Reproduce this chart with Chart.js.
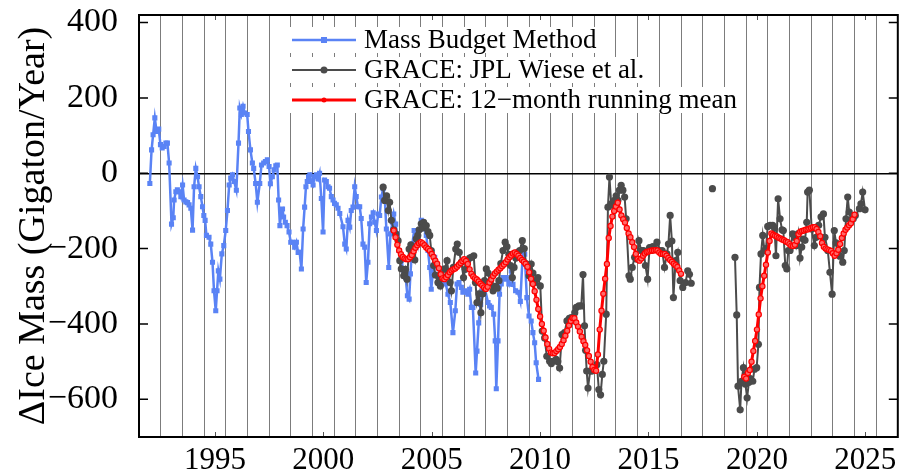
<!DOCTYPE html>
<html>
<head>
<meta charset="utf-8">
<script src="https://cdn.jsdelivr.net/npm/chart.js@4.4.1/dist/chart.umd.min.js"></script>
<style>
  html, body { margin: 0; padding: 0; background: #fff; }
  #wrap { width: 903px; height: 475px; }
</style>
</head>
<body>
<div id="wrap"><canvas id="iceChart" width="903" height="475"></canvas></div>
<script>
// Mass budget method, Gt/yr
const mbYears = [
  1992.00,1992.08,1992.15,1992.23,1992.31,1992.41,1992.49,1992.57,1992.66,1992.74,1992.81,1992.89,
  1993.00,1993.08,1993.12,1993.20,1993.27,1993.35,1993.43,1993.51,1993.58,1993.66,1993.74,1993.81,1993.89,1993.97,
  1994.04,1994.12,1994.20,1994.27,1994.35,1994.43,1994.49,1994.55,1994.61,1994.73,1994.81,1994.89,1994.96,
  1995.04,1995.10,1995.16,1995.23,1995.32,1995.41,1995.50,1995.58,1995.66,1995.73,1995.81,1995.89,1995.99,
  1996.09,1996.15,1996.22,1996.30,1996.38,1996.49,1996.55,1996.64,1996.73,1996.79,1996.88,1996.96,
  1997.07,1997.15,1997.25,1997.33,1997.42,1997.50,1997.56,1997.65,1997.73,1997.81,1997.88,1997.94,
  1998.00,1998.06,1998.12,1998.17,1998.25,1998.33,1998.42,1998.50,1998.59,1998.68,1998.76,1998.84,1998.91,1998.99,
  1999.07,1999.14,1999.20,1999.26,1999.32,1999.38,1999.45,1999.53,1999.60,1999.68,1999.76,1999.83,1999.91,1999.99,
  2000.06,2000.14,2000.22,2000.29,2000.37,2000.45,2000.52,2000.60,2000.68,2000.76,2000.91,2000.99,
  2001.06,2001.14,2001.22,2001.29,2001.37,2001.45,2001.52,2001.60,2001.68,2001.75,2001.83,2001.91,2001.98,
  2002.06,2002.14,2002.22,2002.30,2002.37,2002.45,2002.53,2002.60,2002.68,2002.76,2002.83,2002.91,
  2003.02,2003.10,2003.19,2003.25,2003.34,2003.40,2003.49,2003.60,2003.71,2003.80,2003.88,2003.96,
  2004.02,2004.11,2004.19,2004.26,2004.37,2004.52,2004.60,2004.68,2004.75,2004.83,2004.91,2004.98,
  2005.06,2005.14,2005.22,2005.37,2005.45,2005.52,2005.65,2005.75,2005.86,2005.98,
  2006.09,2006.17,2006.26,2006.37,2006.44,2006.52,2006.60,2006.67,2006.75,2006.83,2006.90,
  2007.03,2007.09,2007.17,2007.26,2007.33,2007.44,2007.60,2007.67,2007.75,2007.86,2007.93,2007.98,
  2008.06,2008.13,2008.21,2008.29,2008.36,2008.44,2008.56,2008.67,2008.75,2008.87,2008.98,
  2009.09,2009.21,2009.29,2009.39,2009.49,2009.59,2009.67,2009.75,2009.82,2009.93
];
const mbValues = [
  -27,62,102,147,111,117,76,67,71,80,80,27,
  -135,-118,-71,-49,-44,-49,-62,-31,-71,-76,-78,-84,-93,-151,
  -36,13,-9,-36,-62,-89,-112,-125,-165,-170,-188,-236,-312,
  -365,-312,-259,-281,-214,-192,-152,-99,-31,-13,-4,-22,-45,
  80,173,156,178,160,156,111,62,27,13,-27,-77,
  -27,22,27,31,36,18,-28,-9,9,20,22,-71,
  -139,-99,-95,-116,-130,-139,-156,-183,-183,-196,-183,-210,-210,-254,
  -148,-90,-36,-22,-9,-4,-22,-31,-9,-4,-15,0,-67,-156,
  -18,-22,-36,-40,-62,-71,-80,-84,-93,-107,-142,-188,
  -201,-125,-143,-99,-90,-36,-62,-89,-89,-120,-188,-196,-290,
  -236,-134,-116,-105,-130,-152,-108,-112,-63,-41,-59,-148,
  -250,-161,-130,-108,-135,-161,-205,-232,-259,-277,-325,-334,
  -267,-188,-152,-152,-188,-125,-130,-148,-165,-205,-250,-308,
  -259,-223,-240,-254,-277,-290,-294,-321,-343,-423,
  -365,-294,-290,-303,-316,-312,-316,-321,-308,-356,-356,
  -530,-472,-397,-348,-312,-303,-343,-352,-356,-374,-445,-572,
  -445,-321,-294,-277,-281,-277,-294,-259,-295,-312,-316,
  -340,-201,-215,-330,-379,-392,-423,-450,-503,-547
];

// GRACE: JPL Wiese et al. (null = gap in the record)
const graceYears = [
  2002.76,2002.83,2002.92,
  2003.00,2003.06,2003.14,2003.25,2003.34,2003.45,2003.53,2003.60,2003.71,2003.79,2003.86,2003.96,
  2004.04,2004.11,2004.22,2004.29,2004.36,2004.42,2004.52,2004.58,2004.63,2004.75,2004.83,2004.91,2004.98,
  2005.09,2005.17,2005.29,2005.34,2005.40,2005.50,2005.60,2005.71,2005.78,2005.85,2005.91,
  2006.00,2006.11,2006.18,2006.27,2006.37,2006.47,2006.55,2006.65,2006.75,2006.83,2006.94,
  2007.02,2007.09,2007.18,2007.27,2007.36,2007.44,2007.52,2007.60,2007.70,2007.83,2007.93,
  2008.02,2008.10,2008.19,2008.29,2008.39,2008.47,2008.56,2008.64,2008.72,2008.80,2008.88,2008.97,
  2009.06,2009.18,2009.27,2009.35,2009.49,2009.59,2009.67,2009.76,2009.90,
  2010.01,2010.10,2010.21,2010.31,2010.44,2010.52,2010.59,2010.74,2010.82,2010.90,
  2011.01,2011.13,2011.24,2011.35,2011.44,2011.51,2011.60,2011.67,2011.79,2011.90,2011.98,
  2012.05,2012.10,2012.15,2012.21,2012.31,2012.40,2012.51,2012.62,2012.71,2012.79,2012.87,2012.94,
  2013.05,2013.13,2013.20,2013.28,2013.36,2013.43,2013.51,2013.59,2013.66,2013.74,2013.82,2013.90,2013.97,
  2014.10,2014.16,2014.25,2014.36,2014.46,2014.56,2014.66,2014.77,2014.86,2014.96,
  2015.05,2015.12,2015.20,2015.28,2015.39,2015.51,2015.63,2015.74,2015.85,2015.92,
  2016.00,2016.08,2016.15,2016.25,2016.35,2016.46,2016.58,2016.71,2016.81,2016.89,2016.97,
  2017.45, 2017.95, 2018.45,
  2018.99,2019.07,2019.13,2019.23,2019.29,2019.38,2019.47,2019.55,2019.63,2019.70,2019.81,2019.89,2019.99,
  2020.07,2020.12,2020.19,2020.27,2020.35,2020.42,2020.50,2020.61,2020.73,2020.81,2020.88,2020.98,
  2021.07,2021.16,2021.22,2021.31,2021.38,2021.45,2021.53,2021.65,2021.73,2021.81,2021.91,2021.99,
  2022.07,2022.14,2022.22,2022.30,2022.34,2022.42,2022.53,2022.65,2022.73,2022.85,2022.96,
  2023.07,2023.14,2023.27,2023.37,2023.47,2023.57,2023.65,2023.73,2023.83,2023.96,
  2024.03,2024.11,2024.19,2024.26,2024.34,2024.45,2024.54,2024.73,2024.80,2024.88,2024.99
];
const graceValues = [
  -37,-72,-60,
  -99,-77,-125,-150,-161,-179,-232,-254,-272,-255,-281,-201,
  -190,-210,-230,-174,-165,-150,-134,-145,-130,-139,-155,-165,-205,
  -245,-270,-290,-275,-299,-275,-254,-232,-265,-290,-312,
  -250,-201,-188,-210,-236,-277,-255,-235,-225,-223,-219,
  -290,-343,-320,-370,-320,-285,-254,-265,-290,-312,-300,
  -305,-285,-240,-205,-183,-195,-215,-245,-277,-250,-225,-210,
  -205,-179,-200,-240,-272,-241,-265,-290,-277,
  -299,-419,-437,-486,-499,-505,-499,-494,-500,-517,
  -428,-423,-392,-385,-383,-390,-370,-356,-352,-352,-269,
  -405,-470,-525,-570,-525,-525,-516,-508,-574,-588,-534,-499,
  -374,-90,-10,-81,-85,-72,-60,-72,-45,-32,-45,-63,-121,
  -272,-281,-250,-223,-228,-179,-205,-205,-245,-281,
  -197,-205,-195,-201,-183,-205,-205,-250,-214,-188,
  -112,-180,-330,-232,-210,-285,-303,-290,-259,-268,-292,
  null, -41, null,
  -223,-376,-565,-628,-552,-516,-560,-596,-555,-545,-552,-520,-516,
  -454,-303,-214,-165,-205,-200,-141,-138,-138,-145,-219,-68,
  -121,-150,-152,-245,-254,-205,-205,-161,-170,-192,-160,-225,
  -196,-175,-178,-130,-50,-45,-148,-192,-170,-138,-116,
  -108,-170,-205,-263,-321,-152,-185,-214,-220,-236,
  -205,-121,-63,-103,-125,-120,-112,-94,-81,-50,-97
];

// GRACE 12-month running mean, monthly values
const meanStartA = 2003.25;
const meanValuesA = [
  -152,-170,-190,-205,-215,-222,-226,-228,-228,
  -223,-217,-207,-198,-191,-186,-183,-186,-191,-197,-201,-206,
  -214,-222,-232,-240,-252,-268,-279,-281,-276,-270,-263,-258,
  -255,-253,-248,-243,-238,-233,-228,-233,-241,-255,-267,-274,
  -279,-282,-287,-293,-298,-303,-307,-301,-290,-282,-273,-266,
  -261,-256,-252,-247,-242,-236,-229,-223,-218,-213,-210,-214,
  -219,-225,-230,-235,-240,-248,-263,-280,-294,-313,-336,-360,
  -380,-400,-418,-436,-453,-466,-476,-478,-477,-472,-467,-461,
  -453,-443,-431,-418,-404,-392,-384,-385,-396,-407,-420,-434,
  -446,-456,-470,-485,-500,-514,-522,-524,-481,-415,-365,-320,
  -280,-241,-172,-140,-115,-100,-88,-78,-96,-112,-122,-131,
  -145,-160,-170,-183,-196,-214,-228,-232,-226,-219,-213,-209,
  -208,-206,-205,-205,-204,-205,-210,-214,-214,-214,-219,-225,
  -230,-235,-240,-244,-249,-258,-267
];
const meanStartB = 2019.42;
const meanValuesB = [
  -540,-545,-530,-522,-500,-472,-445,
  -415,-375,-332,-300,-272,-243,-210,-180,-160,-163,-166,-168,
  -171,-173,-176,-178,-181,-183,-188,-192,-193,-190,-180,-162,
  -155,-153,-152,-150,-149,-147,-145,-143,-143,-148,-156,-167,
  -185,-195,-200,-202,-204,-206,-212,-219,-212,-203,-188,-172,
  -160,-150,-144,-138,-133,-122,-110
];

const yTicks = [-600, -400, -200, 0, 200, 400];
const labelYears = [1995, 2000, 2005, 2010, 2015, 2020, 2025];

const SERIF = '"Liberation Serif", "Times New Roman", serif';
const BLUE = '#5a83f5';
const GRAY = '#4b4b4b';
const RED = '#ff0000';

if (mbYears.length !== mbValues.length || graceYears.length !== graceValues.length) {
  throw new Error('length mismatch ' + mbYears.length + '/' + mbValues.length + ' ' + graceYears.length + '/' + graceValues.length);
}

function toPoints(xs, ys) {
  return xs.map((x, i) => ({ x: x, y: ys[i] }));
}
function monthly(start, vals) {
  return vals.map((v, i) => ({ x: start + i / 12, y: v }));
}

const meanPoints = monthly(meanStartA, meanValuesA)
  .concat([{ x: 2018, y: null }])
  .concat(monthly(meanStartB, meanValuesB));

// year grid lines sit half way between the labelled years
const gridYears = [];
for (let yr = 1992.5; yr < 2026; yr += 1) gridYears.push(yr);
const xTickValues = gridYears.concat(labelYears).sort((a, b) => a - b);

const legendRows = [
  { text: 'Mass Budget Method', color: BLUE, marker: 'rect', lw: 2.5, r: 3 },
  { text: 'GRACE: JPL Wiese et al.', color: GRAY, marker: 'circle', lw: 2, r: 3.5 },
  { text: 'GRACE: 12\u2212month running mean', color: RED, marker: 'circle', lw: 3, r: 2.5 }
];

const legendPlugin = {
  id: 'insideLegend',
  afterDatasetsDraw(chart) {
    const ctx = chart.ctx;
    ctx.save();
    ctx.font = '27px ' + SERIF;
    ctx.textBaseline = 'middle';
    legendRows.forEach((row, i) => {
      const y = 40 + i * 30;
      const w = ctx.measureText(row.text).width;
      ctx.fillStyle = '#fff';
      ctx.fillRect(284, y - 13, 364 + w + 3 - 284, 26);
      ctx.strokeStyle = row.color;
      ctx.lineWidth = row.lw;
      ctx.beginPath();
      ctx.moveTo(292, y);
      ctx.lineTo(356, y);
      ctx.stroke();
      ctx.fillStyle = row.color;
      if (row.marker === 'rect') {
        ctx.fillRect(324 - row.r, y - row.r, row.r * 2, row.r * 2);
      } else {
        ctx.beginPath();
        ctx.arc(324, y, row.r, 0, Math.PI * 2);
        ctx.fill();
      }
      ctx.fillStyle = '#000';
      ctx.fillText(row.text, 364, y + 1);
    });
    ctx.restore();
  }
};

const framePlugin = {
  id: 'frame',
  afterDraw(chart) {
    const { ctx, chartArea: a, scales } = chart;
    ctx.save();
    ctx.strokeStyle = '#000';
    ctx.lineWidth = 1.5;
    yTicks.forEach(v => {
      const y = scales.y.getPixelForValue(v);
      ctx.beginPath();
      ctx.moveTo(a.left, y); ctx.lineTo(a.left + 9, y);
      ctx.moveTo(a.right, y); ctx.lineTo(a.right - 9, y);
      ctx.stroke();
    });
    ctx.strokeStyle = '#555';
    ctx.lineWidth = 1;
    labelYears.forEach(v => {
      const x = Math.round(scales.x.getPixelForValue(v)) + 0.5;
      ctx.beginPath();
      ctx.moveTo(x, a.bottom); ctx.lineTo(x, a.bottom - 5);
      ctx.moveTo(x, a.top); ctx.lineTo(x, a.top + 5);
      ctx.stroke();
    });
    ctx.strokeStyle = '#000';
    ctx.lineWidth = 2;
    ctx.strokeRect(a.left, a.top, a.right - a.left, a.bottom - a.top);
    ctx.restore();
  }
};

const ctx = document.getElementById('iceChart').getContext('2d');
const iceChart = new Chart(ctx, {
  type: 'line',
  data: {
    datasets: [
      {
        label: 'GRACE: 12-month running mean',
        data: meanPoints,
        borderColor: RED,
        backgroundColor: '#ff6a6a',
        borderWidth: 3,
        pointRadius: 2.6,
        pointBorderWidth: 1.2,
        pointBorderColor: RED,
        pointBackgroundColor: '#ff6a6a',
        spanGaps: false,
        order: 1
      },
      {
        label: 'GRACE: JPL Wiese et al.',
        data: toPoints(graceYears, graceValues),
        borderColor: GRAY,
        backgroundColor: GRAY,
        borderWidth: 2,
        pointRadius: 3.6,
        pointBorderWidth: 0,
        spanGaps: false,
        order: 2
      },
      {
        label: 'Mass Budget Method',
        data: toPoints(mbYears, mbValues),
        borderColor: BLUE,
        backgroundColor: BLUE,
        borderWidth: 2.5,
        pointStyle: 'rect',
        pointRadius: 3.6,
        pointBorderWidth: 0,
        order: 3
      }
    ]
  },
  options: {
    responsive: false,
    animation: false,
    layout: { padding: { top: 15, right: 4, left: 0, bottom: 0 } },
    plugins: { legend: { display: false }, tooltip: { enabled: false } },
    elements: { line: { tension: 0 } },
    scales: {
      x: {
        type: 'linear',
        min: 1991.5,
        max: 2026.5,
        afterBuildTicks: s => { s.ticks = xTickValues.map(v => ({ value: v })); },
        afterFit: s => { s.height = 38; s.paddingLeft = 0; s.paddingRight = 0; },
        border: { display: false },
        grid: {
          color: c => (c.tick && c.tick.value % 1 !== 0) ? '#7c7c7c' : 'rgba(0,0,0,0)',
          lineWidth: 1,
          drawTicks: false
        },
        ticks: {
          autoSkip: false,
          maxRotation: 0,
          padding: 5,
          color: '#000',
          font: { family: SERIF, size: 31, lineHeight: 1.2 },
          callback: v => Number.isInteger(v) ? String(v) : ''
        }
      },
      y: {
        min: -700,
        max: 420,
        afterBuildTicks: s => { s.ticks = yTicks.map(v => ({ value: v })); },
        afterFit: s => { s.width = 139; s.paddingTop = 0; s.paddingBottom = 0; },
        border: { display: false },
        grid: {
          color: c => (c.tick && c.tick.value === 0) ? '#000' : 'rgba(0,0,0,0)',
          lineWidth: 1.5,
          drawTicks: false
        },
        ticks: {
          padding: 21,
          color: '#000',
          font: { family: SERIF, size: 34 },
          callback: v => v < 0 ? '\u2212' + Math.abs(v) : String(v)
        },
        title: {
          display: true,
          text: '\u0394Ice Mass (Gigaton/Year)',
          color: '#000',
          font: { family: SERIF, size: 38, lineHeight: 1 },
          padding: { top: 15, bottom: 0 }
        }
      }
    }
  },
  plugins: [legendPlugin, framePlugin]
});
</script>
</body>
</html>
